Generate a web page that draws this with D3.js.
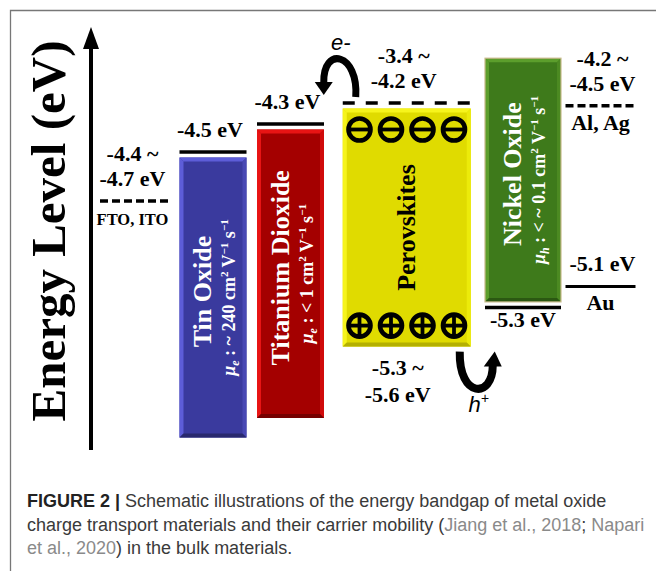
<!DOCTYPE html>
<html>
<head>
<meta charset="utf-8">
<script src="https://cdn.jsdelivr.net/npm/d3@7"></script>
<style>
body{margin:0;background:#fff;}
</style>
</head>
<body>
<svg id="chart" width="656" height="571"></svg>
<script>
// layers, left to right (span = how many columns the layer takes)
var columns = ["FTO, ITO", "Tin Oxide", "Titanium Dioxide", "Perovskites", "Nickel Oxide", "Al, Ag / Au"];
var span = [1, 1, 1, 2, 1, 1];

// band layers, schematic energies as drawn (eV)
var materials = ["Tin Oxide", "Titanium Dioxide", "Perovskites", "Nickel Oxide"];
var bandTop = [-4.5, -4.3, -4.15, -3.83];
var bandBottom = [-6.54, -6.4, -5.89, -5.61];
var levelSide = ["top", "top", "top", "bottom"];
var levelText = [["-4.5 eV"], ["-4.3 eV"], ["-3.4 ~", "-4.2 eV"], ["-5.3 eV"]];
var carrier = ["e", "e", null, "h"];
var mobility = ["~ 240", "< 1", null, "< ~ 0.1"];
var vbText = ["-5.3 ~", "-5.6 eV"]; // perovskite valence band

// electrodes
var electrodes = ["FTO, ITO", "Al, Ag", "Au"];
var electrodeCol = [0, 5, 5];
var electrodeLevel = [-4.85, -4.17, -5.46];
var electrodeText = [["-4.4 ~", "-4.7 eV"], ["-4.2 ~", "-4.5 eV"], ["-5.1 eV"]];

var chargesPerRow = 4;

var caption = [
  [["FIGURE 2 | ", "b"], ["Schematic illustrations of the energy bandgap of metal oxide", "n"]],
  [["charge transport materials and their carrier mobility (", "n"], ["Jiang et al., 2018", "l"], ["; ", "n"], ["Napari", "l"]],
  [["et al., 2020", "l"], [") in the bulk materials.", "n"]]
];

// ---- styles
var widths = {"FTO, ITO": 71, "Tin Oxide": 67, "Titanium Dioxide": 67, "Perovskites": 128, "Nickel Oxide": 76, "Al, Ag / Au": 70};
var colors = {
  "Tin Oxide": {base: "#3a3a9e", light: "#5d5dd8", side: "#4848b4", dark: "#29296e", text: "#fff"},
  "Titanium Dioxide": {base: "#a40000", light: "#e81414", side: "#d00a0a", dark: "#760000", text: "#fff"},
  "Perovskites": {base: "#e0db00", light: "#f6f41c", side: "#eceb0a", dark: "#b4b000", text: "#000"},
  "Nickel Oxide": {base: "#3e7a1b", light: "#5c9e2c", side: "#4c8a22", dark: "#2b5812", text: "#fff"}
};
var serif = "'Liberation Serif','Times New Roman',serif";
var sans = "'Liberation Sans',Arial,sans-serif";
var inset = 5.5;
var bev = 4;

var svg = d3.select("#chart");

// column centres: cumulative spans on a linear scale
var colIndex = [];
var acc = 0;
span.forEach(function(s){ colIndex.push(acc + s / 2 - 0.5); acc += s; });
var x = d3.scaleLinear().domain([0, 6]).range([135.5, 600.5]);
var colX = function(name){ return x(colIndex[columns.indexOf(name)]); };
var y = d3.scaleLinear().domain([-4.5, -5.5]).range([152, 292]);

// frame
svg.append("path")
  .attr("d", "M10.5,571 V10.5 H656")
  .attr("fill", "none").attr("stroke", "#777").attr("stroke-width", 1.3);

// energy axis
svg.append("line")
  .attr("x1", 91).attr("x2", 91).attr("y1", 450).attr("y2", 44)
  .attr("stroke", "#000").attr("stroke-width", 4);
svg.append("path")
  .attr("d", "M91,27 L99,49 L83,49 Z").attr("fill", "#000");
svg.append("text")
  .attr("transform", "translate(65,231) rotate(-90)")
  .attr("text-anchor", "middle")
  .style("font-family", serif).style("font-weight", "bold").style("font-size", "49px")
  .text("Energy Level (eV)");

function label(g, lines, cx, yBase, dir, size){
  lines.forEach(function(t, i){
    var off = dir < 0 ? -(lines.length - 1 - i) * 25 : i * 27;
    g.append("text")
      .attr("x", cx).attr("y", yBase + off)
      .attr("text-anchor", "middle")
      .style("font-family", serif).style("font-weight", "bold").style("font-size", (size || 22) + "px")
      .text(t);
  });
}

// bars
materials.forEach(function(m, i){
  var c = colors[m];
  var cx = colX(m);
  var w = widths[m];
  var x0 = cx - w / 2, x1 = cx + w / 2;
  var y0 = y(bandTop[i]), y1 = y(bandBottom[i]);
  if(levelSide[i] == "top") y0 += inset; else y1 -= inset;
  var g = svg.append("g").attr("class", "bar");
  g.append("rect").attr("x", x0).attr("y", y0).attr("width", w).attr("height", y1 - y0).attr("fill", c.base);
  var polys = [
    [[x0,y0],[x1,y0],[x1-bev,y0+bev],[x0+bev,y0+bev], c.light],
    [[x0,y0],[x0+bev,y0+bev],[x0+bev,y1-bev],[x0,y1], c.light],
    [[x1,y0],[x1,y1],[x1-bev,y1-bev],[x1-bev,y0+bev], c.side],
    [[x0,y1],[x1,y1],[x1-bev,y1-bev],[x0+bev,y1-bev], c.dark]
  ];
  polys.forEach(function(p){
    g.append("path").attr("d", "M" + p.slice(0,4).map(function(q){ return q.join(","); }).join("L") + "Z").attr("fill", p[4]);
  });
  if(m == "Nickel Oxide"){
    g.append("rect").attr("x", x0).attr("y", y0).attr("width", w).attr("height", y1 - y0)
      .attr("fill", "none").attr("stroke", "#c8bb8c").attr("stroke-width", 1.2);
  }

  // level line + label
  var ly = levelSide[i] == "top" ? y(bandTop[i]) : y(bandBottom[i]);
  var dashed = m == "Perovskites";
  svg.append("line")
    .attr("x1", x0).attr("x2", x1).attr("y1", ly).attr("y2", ly)
    .attr("stroke", "#000").attr("stroke-width", 3.5)
    .attr("stroke-dasharray", dashed ? "12,11" : null);
  if(levelSide[i] == "top") label(svg, levelText[i], cx - 3, ly - 15, -1);
  else label(svg, levelText[i], cx, ly + 20, 1);

  // rotated names
  var mid = (y0 + y1) / 2;
  var nameX = carrier[i] ? cx - 2 : cx + 8;
  svg.append("text")
    .attr("transform", "translate(" + nameX + "," + (mid - (carrier[i] ? 6 : 0)) + ") rotate(-90)")
    .attr("text-anchor", "middle").attr("fill", c.text)
    .style("font-family", serif).style("font-weight", "bold").style("font-size", "26px")
    .text(m);
  if(carrier[i]){
    var t = svg.append("text")
      .attr("transform", "translate(" + (cx + 22) + "," + mid + ") rotate(-90)")
      .attr("text-anchor", "middle").attr("fill", c.text)
      .style("font-family", serif).style("font-weight", "bold").style("font-size", "18px");
    t.append("tspan").style("font-style", "italic").text("μ");
    t.append("tspan").style("font-style", "italic").style("font-size", "12px").attr("dy", 4).text(carrier[i]);
    t.append("tspan").attr("dy", -4).text(" : " + mobility[i] + " cm");
    t.append("tspan").style("font-size", "11px").attr("dy", -7).text("2");
    t.append("tspan").attr("dy", 7).text(" V");
    t.append("tspan").style("font-size", "11px").attr("dy", -7).text("−1");
    t.append("tspan").attr("dy", 7).text(" s");
    t.append("tspan").style("font-size", "11px").attr("dy", -7).text("−1");
  }

  if(m == "Perovskites"){
    // charge carriers
    var cxs = d3.scaleBand().domain(d3.range(chargesPerRow)).range([x0 + 1, x1 - 1]);
    var rows = [{cy: y0 + 21, sign: "-"}, {cy: y1 - 21, sign: "+"}];
    rows.forEach(function(row){
      d3.range(chargesPerRow).forEach(function(k){
        var px = cxs(k) + cxs.bandwidth() / 2;
        svg.append("circle").attr("cx", px).attr("cy", row.cy).attr("r", 11)
          .attr("fill", "none").attr("stroke", "#000").attr("stroke-width", 4.6);
        svg.append("line").attr("x1", px - 12).attr("x2", px + 12).attr("y1", row.cy).attr("y2", row.cy)
          .attr("stroke", "#000").attr("stroke-width", 3.8);
        if(row.sign == "+"){
          svg.append("line").attr("x1", px).attr("x2", px).attr("y1", row.cy - 12).attr("y2", row.cy + 12)
            .attr("stroke", "#000").attr("stroke-width", 3.8);
        }
      });
    });
    label(svg, vbText, cx - 9, y1 + 28, 1);

    // electron / hole arrows
    svg.append("path")
      .attr("d", "M" + (x0 + 13) + "," + (ly - 6) + " C" + (x0 + 16) + "," + (ly - 50) + " " + (x0 - 20) + "," + (ly - 58) + " " + (x0 - 19) + "," + (ly - 20))
      .attr("fill", "none").attr("stroke", "#000").attr("stroke-width", 7);
    svg.append("path")
      .attr("d", "M" + (x0 - 28) + "," + (ly - 21) + " L" + (x0 - 10) + "," + (ly - 21) + " L" + (x0 - 19) + "," + (ly - 8) + " Z")
      .attr("fill", "#000");
    svg.append("text").attr("x", x0 - 2).attr("y", ly - 53).attr("text-anchor", "middle")
      .style("font-family", sans).style("font-style", "italic").style("font-size", "22px").text("e-");

    svg.append("path")
      .attr("d", "M" + (x1 - 11) + "," + (y1 + 5) + " C" + (x1 - 12) + "," + (y1 + 52) + " " + (x1 + 22) + "," + (y1 + 52) + " " + (x1 + 22) + "," + (y1 + 19))
      .attr("fill", "none").attr("stroke", "#000").attr("stroke-width", 8);
    svg.append("path")
      .attr("d", "M" + (x1 + 13) + "," + (y1 + 20) + " L" + (x1 + 31) + "," + (y1 + 20) + " L" + (x1 + 24) + "," + (y1 + 5) + " Z")
      .attr("fill", "#000");
    var h = svg.append("text").attr("x", x1 + 8).attr("y", y1 + 65).attr("text-anchor", "middle")
      .style("font-family", sans).style("font-style", "italic").style("font-size", "22px");
    h.append("tspan").text("h");
    h.append("tspan").attr("dy", -9).style("font-size", "14px").text("+");
  }
});

// electrodes
electrodes.forEach(function(e, i){
  var cx = x(colIndex[electrodeCol[i]]);
  var w = widths[columns[electrodeCol[i]]];
  var ly = y(electrodeLevel[i]);
  svg.append("line")
    .attr("x1", cx - w / 2).attr("x2", cx + w / 2).attr("y1", ly).attr("y2", ly)
    .attr("stroke", "#000").attr("stroke-width", e == "Au" ? 3 : 3.5)
    .attr("stroke-dasharray", e == "Au" ? null : "8,4");
  label(svg, electrodeText[i], cx + (i == 0 ? -3 : 2), ly - 15, -1);
  label(svg, [e], cx + (i == 0 ? -3 : 0), ly + 24, 1, i == 0 ? 16.5 : 22);
});

// caption
var cap = svg.append("g").attr("class", "caption");
caption.forEach(function(line, i){
  var t = cap.append("text").attr("x", 27).attr("y", 507 + i * 23.5)
    .style("font-family", sans).style("font-size", "18px");
  line.forEach(function(seg){
    t.append("tspan").text(seg[0])
      .attr("fill", seg[1] == "l" ? "#8a8a8a" : (seg[1] == "b" ? "#222" : "#3a3a3a"))
      .style("font-weight", seg[1] == "b" ? "bold" : "normal");
  });
});
</script>
</body>
</html>
